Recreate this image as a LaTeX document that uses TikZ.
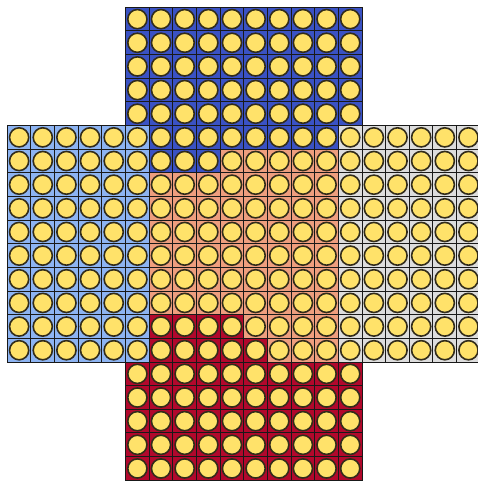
\documentclass[tikz,border=0pt]{standalone}
\definecolor{dblue}{RGB}{58,82,196}
\definecolor{lblue}{RGB}{141,180,242}
\definecolor{lgray}{RGB}{221,221,221}
\definecolor{salmon}{RGB}{238,158,126}
\definecolor{dred}{RGB}{178,8,44}
\definecolor{cyel}{RGB}{255,226,106}
\definecolor{cring}{RGB}{50,44,26}
\begin{document}
\begin{tikzpicture}[x=23.65pt,y=-23.65pt,
  cellline/.style={draw=black!90,line width=1pt},
  pin/.style={fill=cyel,draw=cring,line width=1.6pt}]
\useasboundingbox (-0.3087,-0.3087) rectangle (19.903,20.030);
\clip (-0.3087,-0.3087) rectangle (19.903,20.030);
% regions
\fill[salmon] (6,5) rectangle (14,15);
\fill[lblue] (0,5) rectangle (6,15);
\fill[lgray] (14,5) rectangle (20,15);
\fill[dblue] (5,0) -- (15,0) -- (15,5) -- (14,5) -- (14,6) -- (9,6) -- (9,7) -- (6,7) -- (6,5) -- (5,5) -- cycle;
\fill[dred] (5,20) -- (15,20) -- (15,15) -- (11,15) -- (11,14) -- (10,14) -- (10,13) -- (6,13) -- (6,15) -- (5,15) -- cycle;
% cells and pins
\foreach \r in {0,...,4,15,16,17,18,19}{
  \foreach \c in {5,...,14}{
    \draw[cellline] (\c,\r) rectangle +(1,1);
    \draw[pin] (\c+0.5,\r+0.5) circle[radius=0.405];
  }
}
\foreach \r in {5,...,14}{
  \foreach \c in {0,...,19}{
    \draw[cellline] (\c,\r) rectangle +(1,1);
    \draw[pin] (\c+0.5,\r+0.5) circle[radius=0.405];
  }
}
\end{tikzpicture}
\end{document}
